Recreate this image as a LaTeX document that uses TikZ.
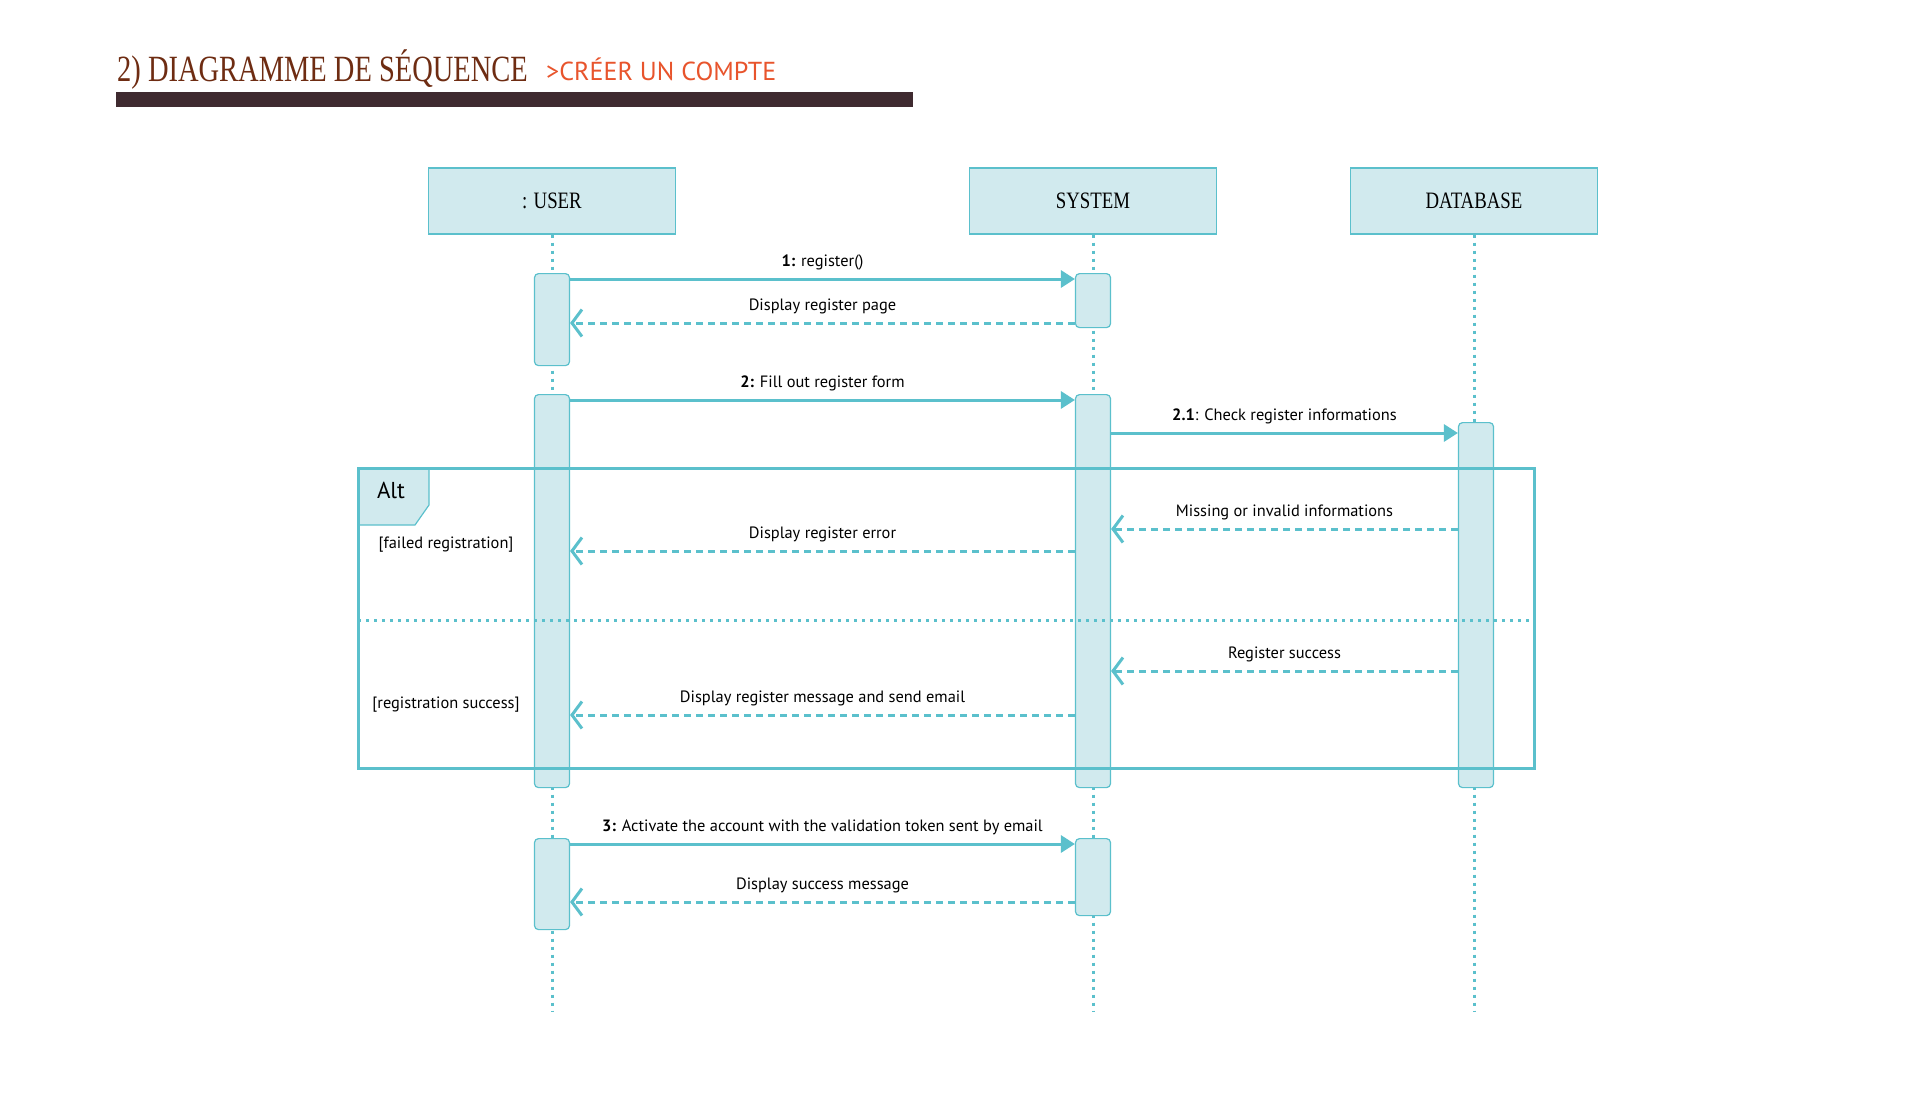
\documentclass[tikz,border=0pt]{standalone}
\usepackage{fontspec}
\usetikzlibrary{arrows.meta}
\setmainfont{PT Sans}
\newfontfamily\ttlfont[FakeStretch=0.77]{Liberation Serif}
\newfontfamily\headfont[FakeStretch=0.8]{Liberation Serif}
\definecolor{cy}{HTML}{5BC0CC}
\definecolor{cyfill}{HTML}{D1EAEE}
\definecolor{ttlbrown}{HTML}{6E2C12}
\definecolor{barc}{HTML}{3F2A30}
\definecolor{orng}{HTML}{E8542C}
\begin{document}
\begin{tikzpicture}[x=1pt,y=-1pt,
  head/.style={draw=cy, fill=cyfill, line width=1.2pt, minimum width=247pt, minimum height=66pt, inner sep=0pt, font=\headfont\fontsize{23.5}{26}\selectfont},
  act/.style={draw=cy, fill=cyfill, line width=1.2pt, rounded corners=4pt, minimum width=35pt, inner sep=0pt, anchor=north},
  life/.style={cy, line width=3pt, dash pattern=on 3pt off 5pt},
  msg/.style={cy, line width=3pt, -{Triangle[length=14pt,width=17pt]}},
  ret/.style={cy, line width=3pt, dash pattern=on 7pt off 5pt, -{Straight Barb[length=10pt,width=27pt]}},
  lbl/.style={font=\fontsize{16.4}{19}\selectfont, text=black, anchor=base, yshift=13pt, inner sep=0pt},
  guard/.style={font=\fontsize{16.4}{19}\selectfont, text=black, inner sep=0pt}
]
\useasboundingbox[fill=white] (0,0) rectangle (1920,1096);

% title
\node[anchor=base west, inner sep=0pt, text=ttlbrown, font=\ttlfont\fontsize{37}{40}\selectfont] (title) at (117,81) {2) DIAGRAMME DE SÉQUENCE};
\node[anchor=base west, inner sep=0pt, text=orng, font=\fontsize{26}{29}\selectfont] (sub) at (546,80) {>CRÉER UN COMPTE};
\node[fill=barc, minimum width=797pt, minimum height=15pt, anchor=north west, inner sep=0pt] (bar) at (116,92) {};

% heads
\node[head] (userH) at (552,201) {: USER};
\node[head] (sysH) at (1093,201) {SYSTEM};
\node[head] (dbH) at (1474,201) {DATABASE};

% lifeline ends
\coordinate (userE) at (552,1012);
\coordinate (sysE) at (1093,1012);
\coordinate (dbE) at (1474,1012);
\draw[life] (userH.south) -- (userE);
\draw[life] (sysH.south) -- (sysE);
\draw[life] (dbH.south) -- (dbE);

% activation bars
\node[act, minimum height=92pt] (u1) at (552,273) {};
\node[act, minimum height=54pt] (s1) at (1093,273) {};
\node[act, minimum height=393pt] (u2) at (552,394) {};
\node[act, minimum height=393pt] (s2) at (1093,394) {};
\node[act, minimum height=365pt] (d2) at (1476,422) {};
\node[act, minimum height=91pt] (u3) at (552,838) {};
\node[act, minimum height=77pt] (s3) at (1093,838) {};

% message levels
\coordinate (y1) at (0,279);
\coordinate (y2) at (0,323);
\coordinate (y3) at (0,400);
\coordinate (y4) at (0,433);
\coordinate (y5) at (0,529);
\coordinate (y6) at (0,551);
\coordinate (y7) at (0,671);
\coordinate (y8) at (0,715);
\coordinate (y9) at (0,844);
\coordinate (y10) at (0,902);

\draw[msg] (u1.east |- y1) -- (s1.west |- y1) node[lbl, midway] {\textbf{1:} register()};
\draw[ret] (s1.west |- y2) -- (u1.east |- y2) node[lbl, midway] {Display register page};
\draw[msg] (u2.east |- y3) -- (s2.west |- y3) node[lbl, midway] {\textbf{2:} Fill out register form};
\draw[msg] (s2.east |- y4) -- (d2.west |- y4) node[lbl, midway] {\textbf{2.1}: Check register informations};

% alt frame
\node[minimum width=1176pt, minimum height=300pt, anchor=north west, inner sep=0pt] (alt) at (358,468) {};
\draw[draw=cy, fill=cyfill, line width=1.2pt] (alt.north west) -- ++(71,0) -- ++(0,37) -- ++(-14,20) -- ++(-57,0) -- cycle;
\draw[cy, line width=3pt] (alt.north west) rectangle (alt.south east);
\node[font=\fontsize{23}{26}\selectfont, inner sep=0pt] (altT) at (391,490) {Alt};
\coordinate (dv) at (0,620);
\draw[life] (alt.west |- dv) -- (alt.east |- dv);
\node[guard] (g1) at (446,545) {[failed registration]};
\node[guard] (g2) at (446,705) {[registration success]};

\draw[ret] (d2.west |- y5) -- (s2.east |- y5) node[lbl, midway] {Missing or invalid informations};
\draw[ret] (s2.west |- y6) -- (u2.east |- y6) node[lbl, midway] {Display register error};
\draw[ret] (d2.west |- y7) -- (s2.east |- y7) node[lbl, midway] {Register success};
\draw[ret] (s2.west |- y8) -- (u2.east |- y8) node[lbl, midway] {Display register message and send email};

\draw[msg] (u3.east |- y9) -- (s3.west |- y9) node[lbl, midway] {\textbf{3:} Activate the account with the validation token sent by email};
\draw[ret] (s3.west |- y10) -- (u3.east |- y10) node[lbl, midway] {Display success message};
\end{tikzpicture}
\end{document}
